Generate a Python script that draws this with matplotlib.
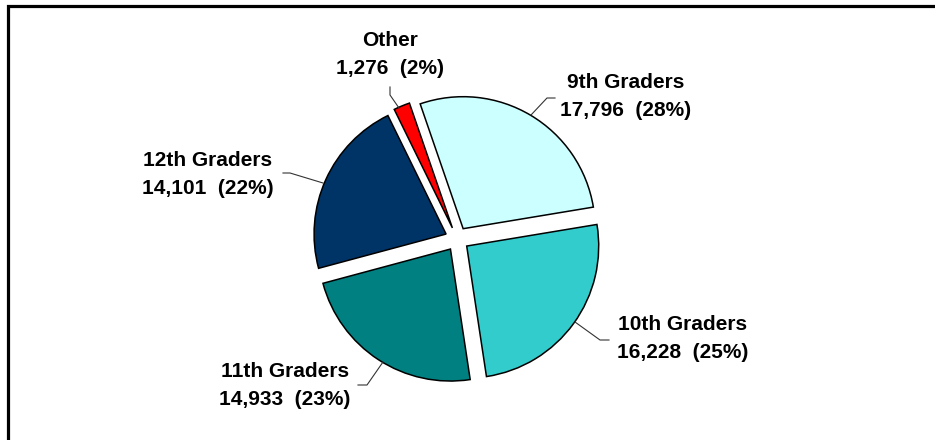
import matplotlib
matplotlib.use('Agg')
import matplotlib.pyplot as plt
from matplotlib.patches import Rectangle

# data
categories = ['9th Graders', '10th Graders', '11th Graders', '12th Graders', 'Other']
counts = [17796, 16228, 14933, 14101, 1276]
percent_labels = ['28%', '25%', '23%', '22%', '2%']
colors = ['#CCFFFF', '#33CCCC', '#008080', '#003366', '#FF0000']

W, H = 935, 440
fig = plt.figure(figsize=(W / 100, H / 100), dpi=100)
ax = fig.add_axes([0, 0, 1, 1])

# pie drawn in pixel-like data coords (y measured from bottom)
# note: explode is in data units here, not a fraction of the radius
R = 132
ax.pie(counts, colors=colors, startangle=109, counterclock=False,
       center=(457, H - 239), radius=R, explode=[12] * len(counts),
       wedgeprops=dict(edgecolor='black', linewidth=1.1), frame=True)
ax.set_xlim(0, W)
ax.set_ylim(0, H)
ax.set_aspect('equal')
ax.axis('off')

# label positions (image coords, centre of text block) and leader lines
label_pos = [(626, 96), (683, 339), (285, 385), (208, 174), (390, 54)]
leaders = [
    [(555, 98), (547, 98), (531, 115)],
    [(609, 340), (600, 340), (575, 322)],
    [(358, 385), (367, 385), (383, 362)],
    [(283, 173), (290, 173), (323, 183)],
    [(390, 87), (390, 95), (399, 108)],
]

for name, n, pct, (x, y), pts in zip(categories, counts, percent_labels, label_pos, leaders):
    ax.text(x, H - y, f'{name}\n{n:,}  ({pct})', ha='center', va='center',
            fontsize=15, fontweight='bold', family=['Liberation Sans', 'DejaVu Sans'],
            linespacing=1.6)
    ax.plot([p[0] for p in pts], [H - p[1] for p in pts], color='#333333', lw=0.8)

# outer frame (right and bottom edges fall outside the image)
fig.patches.append(Rectangle((8 / W, -0.1), 1.2, (H - 6) / H + 0.1,
                             transform=fig.transFigure, fill=False,
                             edgecolor='black', linewidth=2.3))

fig.savefig('out.png', dpi=100)
